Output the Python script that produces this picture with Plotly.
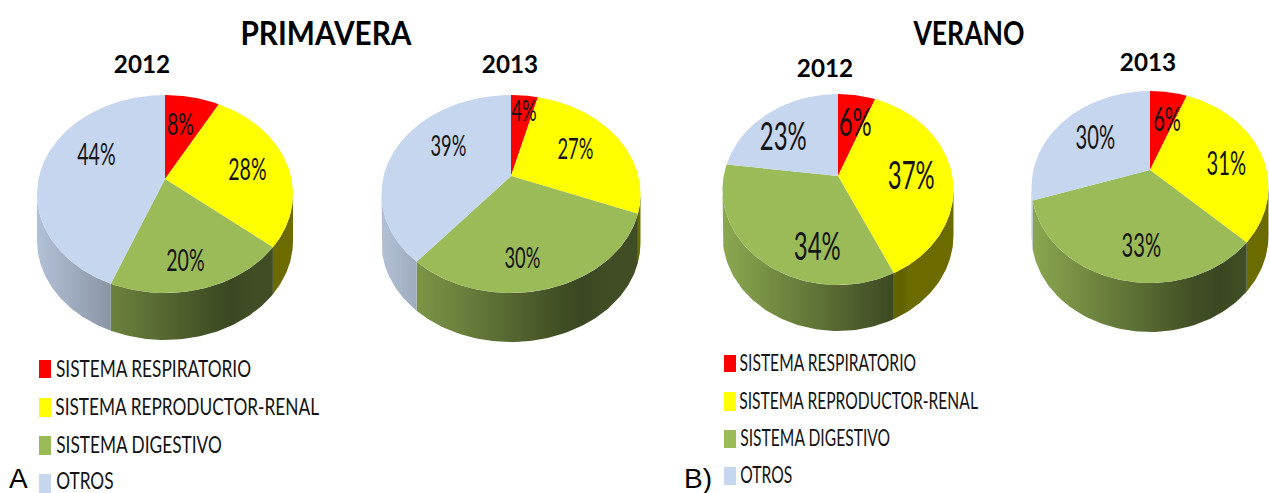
"""
Seasonal pie charts (PRIMAVERA / VERANO) drawn as tilted 3D pies.
"""
import json

import numpy as np
import plotly.graph_objects as go

CATEGORIES = ["SISTEMA RESPIRATORIO", "SISTEMA REPRODUCTOR-RENAL", "SISTEMA DIGESTIVO", "OTROS"]
PRIMAVERA_2012 = [8, 28, 20, 44]
PRIMAVERA_2013 = [4, 27, 30, 39]
VERANO_2012 = [6, 37, 34, 23]
VERANO_2013 = [6, 31, 33, 30]
SEASON_TITLES = ["PRIMAVERA", "VERANO"]
YEAR_TITLES = ["2012", "2013", "2012", "2013"]
PANEL_TAGS = ["A", "B)"]

COLORS = [(255, 0, 0), (255, 255, 0), (155, 187, 89), (198, 214, 238)]
TEXT_COLOR = "#141414"
BODY_FONT = "Lato"

# apex x/y, top, bottom, left, right of the upper ellipse, side depth, label font size, label positions
PIES = [
    {"values": PRIMAVERA_2012, "apex": (165, 179), "top": 95, "bottom": 293, "left": 37, "right": 293,
     "depth": 47, "size": 31, "labels": [(180, 123), (247, 168), (185, 259), (96, 153)]},
    {"values": PRIMAVERA_2013, "apex": (511, 176), "top": 95, "bottom": 293, "left": 381, "right": 640,
     "depth": 49, "size": 29, "labels": [(524, 109), (575, 147), (522, 256), (448, 144)]},
    {"values": VERANO_2012, "apex": (838, 176), "top": 94, "bottom": 285, "left": 723, "right": 954,
     "depth": 46, "size": 38, "labels": [(855, 121), (911, 174), (817, 245), (783, 135)]},
    {"values": VERANO_2013, "apex": (1150, 170), "top": 91, "bottom": 283, "left": 1031, "right": 1268,
     "depth": 49, "size": 32, "labels": [(1167, 118), (1226, 162), (1141, 244), (1095, 136)]},
]

# squeeze factor applied to each annotation, filled in by add_text
squeeze = []


def projection(pie):
    """Returns the function mapping a pie angle (degrees, clockwise from 12 o'clock) to screen x, y."""
    apex_x, apex_y = pie["apex"]
    up = apex_y - pie["top"]
    down = pie["bottom"] - apex_y
    k = (up - down) / (up + down)
    scale_y = up * (1 - k)
    half_width = (pie["right"] - pie["left"]) / 2
    scale_x = half_width * np.sqrt(1 - k ** 2)

    def project(angle):
        theta = np.radians(angle)
        u, v = np.sin(theta), -np.cos(theta)
        return apex_x + scale_x * u / (1 + k * v), apex_y + scale_y * v / (1 + k * v)

    return project, k


def shade(rgb, fraction):
    """Side wall colour: lit on the left of the pie, dark towards the right."""
    factor = max(0.9 - 0.69 * fraction, 0.38) if fraction < 0.8 else 0.42
    return "rgb({},{},{})".format(*[int(c * factor) for c in rgb])


def add_side(fig, pie, project, k, start, end, rgb):
    front_start = np.degrees(np.arccos(k))
    first, last = max(start, front_start), min(end, 360 - front_start)
    if last <= first:
        return
    angles = np.linspace(first, last, 80)
    xs, ys = project(angles)
    poly_x = np.concatenate([xs, xs[::-1]])
    poly_y = np.concatenate([ys, ys[::-1] + pie["depth"]])
    width = pie["right"] - pie["left"]
    stops = []
    for pos in np.linspace(0, 1, 9):
        x_at = xs.min() + pos * (xs.max() - xs.min())
        stops.append([float(pos), shade(rgb, (x_at - pie["left"]) / width)])
    fig.add_trace(go.Scatter(
        x=poly_x, y=poly_y, mode="lines", fill="toself", line={"width": 0},
        fillgradient={"type": "horizontal", "colorscale": stops},
        hoverinfo="skip", showlegend=False,
    ))


def add_top(fig, pie, project, start, end, rgb, name, value):
    xs, ys = project(np.linspace(start, end, max(int(end - start), 2) * 2))
    fig.add_trace(go.Scatter(
        x=np.concatenate([[pie["apex"][0]], xs, [pie["apex"][0]]]),
        y=np.concatenate([[pie["apex"][1]], ys, [pie["apex"][1]]]),
        mode="lines", fill="toself", line={"width": 0},
        fillcolor="rgb({},{},{})".format(*rgb),
        name=name, text=f"{name}: {value}%", hoverinfo="text", showlegend=False,
    ))


def add_text(fig, x, y, text, size, family=BODY_FONT, bold=False, color=TEXT_COLOR, factor=1.0):
    fig.add_annotation(
        x=x, y=y, xref="x", yref="y", text=f"<b>{text}</b>" if bold else text, showarrow=False,
        xanchor="center", yanchor="middle", font={"family": family, "size": size, "color": color},
    )
    squeeze.append(factor)


fig = go.Figure()

for pie in PIES:
    project, k = projection(pie)
    edges = np.concatenate([[0], np.cumsum(pie["values"]) * 3.6])
    for i, rgb in enumerate(COLORS):
        add_side(fig, pie, project, k, edges[i], edges[i + 1], rgb)
    for i, rgb in enumerate(COLORS):
        add_top(fig, pie, project, edges[i], edges[i + 1], rgb, CATEGORIES[i], pie["values"][i])
    for value, (x, y) in zip(pie["values"], pie["labels"]):
        add_text(fig, x, y, f"{value}%", pie["size"], factor=0.63)

# titles
for title, x, factor in zip(SEASON_TITLES, [326, 968], [0.93, 0.83]):
    add_text(fig, x, 32, title, 32, bold=True, color="black", factor=factor)
for year, x, y in zip(YEAR_TITLES, [142, 510, 825, 1148], [63, 63, 67, 61]):
    add_text(fig, x, y, year, 25, bold=True, color="black", factor=0.97)

# hand-made legends
LEGENDS = [
    {"x0": 39, "x1": 51, "size": 24, "factor": 0.72, "centers": [153.5, 187, 139, 84.5],
     "rows": [(360, 378), (398, 417), (436, 455), (474, 493)]},
    {"x0": 724, "x1": 736, "size": 23, "factor": 0.68, "centers": [828, 858, 814.5, 765.5],
     "rows": [(355, 372), (392, 411), (430, 448), (467, 485)]},
]
for legend in LEGENDS:
    for name, rgb, center, (y0, y1) in zip(CATEGORIES, COLORS, legend["centers"], legend["rows"]):
        fig.add_shape(type="rect", x0=legend["x0"], x1=legend["x1"], y0=y0, y1=y1, xref="x", yref="y",
                      line={"width": 0}, fillcolor="rgb({},{},{})".format(*rgb))
        # last left row sits on the page edge, keep its text inside
        add_text(fig, center, min((y0 + y1) / 2 - 2, 479), name, legend["size"], factor=legend["factor"])

for tag, x, y in zip(PANEL_TAGS, [18, 698], [478, 478]):
    add_text(fig, x, y, tag, 28, "Liberation Sans", color="black")

fig.update_layout(
    width=1269, height=493, margin={"l": 0, "r": 0, "t": 0, "b": 0},
    paper_bgcolor="white", plot_bgcolor="white", showlegend=False,
    xaxis={"range": [0, 1269], "visible": False, "fixedrange": True},
    yaxis={"range": [493, 0], "visible": False, "fixedrange": True},
)

# the reference text is a condensed face that is not installed, so narrow the glyphs after drawing
POST_SCRIPT = """
document.body.style.margin = '0';
var squeeze = %s;
function narrowText() {
  document.querySelectorAll('.annotation-text').forEach(function (el, i) {
    el.setAttribute('textLength', el.getComputedTextLength() * squeeze[i]);
    el.setAttribute('lengthAdjust', 'spacingAndGlyphs');
  });
}
setTimeout(narrowText, 50);
""" % json.dumps(squeeze)

fig.write_html("out.html", post_script=POST_SCRIPT, config={"displayModeBar": False})
